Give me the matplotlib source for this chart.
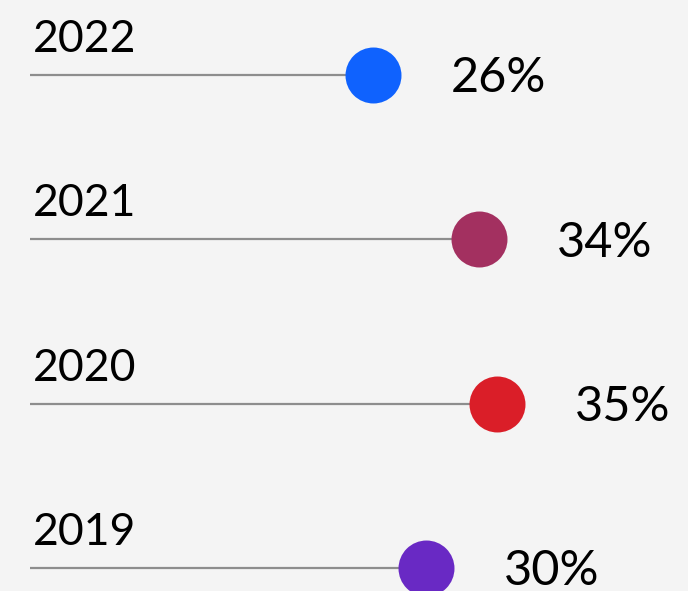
import matplotlib.pyplot as plt

plt.rcParams['font.family'] = ['Lato', 'DejaVu Sans']

years = ["2019", "2020", "2021", "2022"]
values = [30, 35.4, 34, 26]
labels = ["30%", "35%", "34%", "26%"]
colors = ["#6929c4", "#da1e28", "#a33060", "#0f62fe"]

fig = plt.figure(figsize=(6.88, 5.91), dpi=100)
fig.patch.set_facecolor("#f4f4f4")
ax = fig.add_axes([0, 0, 1, 1])
ax.set_facecolor("#f4f4f4")

px = 13.2  # pixels per percent
ax.set_xlim(-30 / px, (688 - 30) / px)
ax.set_ylim(-23 / 164.3, 3 + 75 / 164.3)

for i, (yr, v, lab, c) in enumerate(zip(years, values, labels, colors)):
    ax.plot([0, v], [i, i], color="#8d8d8d", lw=1.6, solid_capstyle="butt", zorder=1)
    ax.plot(v, i, "o", ms=40.3, color=c, mec="none", zorder=2)
    ax.annotate(lab, (v, i), xytext=(56, -12.5), textcoords="offset points",
                va="baseline", ha="left", fontsize=35, color="black")
    ax.annotate(yr, (0, i), xytext=(2, 16.5), textcoords="offset points",
                va="baseline", ha="left", fontsize=32, color="black")

ax.axis("off")
fig.savefig("out.png", dpi=100, facecolor=fig.get_facecolor())
